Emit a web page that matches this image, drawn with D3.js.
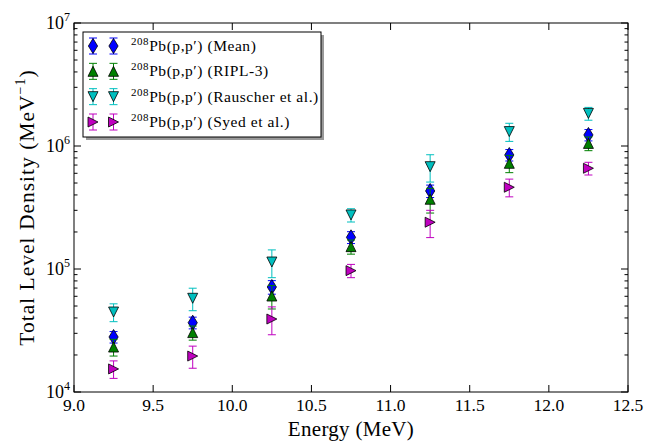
<!DOCTYPE html>
<html>
<head>
<meta charset="utf-8">
<script src="https://cdn.jsdelivr.net/npm/d3@7"></script>
<style>
  body { margin: 0; background: #fff; }
  svg { display: block; font-family: 'Liberation Serif', 'DejaVu Serif', serif; }
</style>
</head>
<body>
<div class="canvas"></div>
<script>
// data
const energy = [9.25, 9.75, 10.25, 10.75, 11.25, 11.75, 12.25];
const meanVals = [2.80e4, 3.66e4, 7.14e4, 1.81e5, 4.31e5, 8.45e5, 1.23e6];
const meanErr = [0.3e4, 0.4e4, 0.9e4, 0.2e5, 0.5e5, 0.9e5, 1.3e5];
const riplVals = [2.32e4, 3.04e4, 6.03e4, 1.52e5, 3.69e5, 7.23e5, 1.05e6];
const riplErr = [0.36e4, 0.4e4, 1.3e4, 0.2e5, 0.84e5, 1.16e5, 1.34e5];
const rauscherVals = [4.47e4, 5.78e4, 1.14e5, 2.75e5, 6.79e5, 1.31e6, 1.84e6];
const rauscherErr = [0.74e4, 1.2e4, 0.29e5, 0.34e5, 1.7e5, 0.22e6, 0.22e6];
const syedVals = [1.54e4, 1.96e4, 3.92e4, 0.97e5, 2.40e5, 4.62e5, 6.59e5];
const syedErr = [0.25e4, 0.4e4, 1.0e4, 0.12e5, 0.6e5, 0.76e5, 0.78e5];

const xTicks = [9.0, 9.5, 10.0, 10.5, 11.0, 11.5, 12.0, 12.5];
const yMajor = [1e4, 1e5, 1e6, 1e7];

const series = [
  { name: '(Mean)', vals: meanVals, err: meanErr, color: '#0000ff', shape: 'diamond' },
  { name: '(RIPL-3)', vals: riplVals, err: riplErr, color: '#008000', shape: 'up' },
  { name: '(Rauscher et al.)', vals: rauscherVals, err: rauscherErr, color: '#00bfbf', shape: 'down' },
  { name: '(Syed et al.)', vals: syedVals, err: syedErr, color: '#bf00bf', shape: 'right' },
];

// !----------------------------------------------------------graph content below

const dims = { width: 662, height: 442 };
const plot = { left: 74, right: 628, top: 23, bottom: 392 };

const svg = d3
  .select('.canvas')
  .append('svg')
  .attr('width', dims.width)
  .attr('height', dims.height);

const x = d3.scaleLinear().domain([9, 12.5]).range([plot.left, plot.right]);
const y = d3.scaleLog().domain([1e4, 1e7]).range([plot.bottom, plot.top]);

// marker shapes, centred on 0,0
const shapePath = (shape) => {
  const s = 5;
  if (shape === 'diamond') return `M0,-7.5L4.6,0L0,7.5L-4.6,0Z`;
  if (shape === 'up') return `M0,${-s}L${s},${s}L${-s},${s}Z`;
  if (shape === 'down') return `M0,${s}L${s},${-s}L${-s},${-s}Z`;
  return `M${s},0L${-s},${s}L${-s},${-s}Z`;
};

// ticks (inside, all four sides)
const tickLayer = svg.append('g').attr('stroke', '#000').attr('stroke-width', 1);

xTicks.forEach((t) => {
  tickLayer.append('line')
    .attr('x1', x(t)).attr('x2', x(t))
    .attr('y1', plot.bottom).attr('y2', plot.bottom - 7);
  tickLayer.append('line')
    .attr('x1', x(t)).attr('x2', x(t))
    .attr('y1', plot.top).attr('y2', plot.top + 7);
});

y.ticks().forEach((t) => {
  const major = yMajor.some((m) => Math.abs(m - t) < 1e-6 * m);
  const len = major ? 7 : 3.5;
  tickLayer.append('line')
    .attr('x1', plot.left).attr('x2', plot.left + len)
    .attr('y1', y(t)).attr('y2', y(t));
  tickLayer.append('line')
    .attr('x1', plot.right).attr('x2', plot.right - len)
    .attr('y1', y(t)).attr('y2', y(t));
});

// x tick labels
svg.append('g')
  .selectAll('text')
  .data(xTicks)
  .join('text')
  .attr('x', (d) => x(d))
  .attr('y', plot.bottom + 19)
  .attr('text-anchor', 'middle')
  .attr('font-size', 17.5)
  .text((d) => d.toFixed(1));

// y tick labels 10^n
const yLab = svg.append('g')
  .selectAll('text')
  .data(yMajor)
  .join('text')
  .attr('x', plot.left - 4)
  .attr('y', (d) => y(d) + 6)
  .attr('text-anchor', 'end')
  .attr('font-size', 18);
yLab.append('tspan').text('10');
yLab.append('tspan')
  .attr('font-size', 12)
  .attr('dy', -8)
  .text((d) => Math.round(Math.log10(d)));

// axis titles
svg.append('text')
  .attr('x', (plot.left + plot.right) / 2)
  .attr('y', 436)
  .attr('text-anchor', 'middle')
  .attr('font-size', 21)
  .attr('letter-spacing', 0.3)
  .text('Energy (MeV)');

const yTitle = svg.append('text')
  .attr('transform', `translate(34, ${(plot.top + plot.bottom) / 2}) rotate(-90)`)
  .attr('text-anchor', 'middle')
  .attr('font-size', 21.5)
  .attr('letter-spacing', 1);
yTitle.append('tspan').text('Total Level Density (MeV');
yTitle.append('tspan').attr('font-size', 14).attr('dy', -9).text('\u22121');
yTitle.append('tspan').attr('dy', 9).text(')');

// data: error bars + markers, series in legend order
const drawPoint = (g, cx, cy, lo, hi, s) => {
  g.append('line')
    .attr('x1', cx).attr('x2', cx)
    .attr('y1', lo).attr('y2', hi)
    .attr('stroke', s.color).attr('stroke-width', 1);
  [lo, hi].forEach((v) => {
    g.append('line')
      .attr('x1', cx - 4).attr('x2', cx + 4)
      .attr('y1', v).attr('y2', v)
      .attr('stroke', s.color).attr('stroke-width', 1);
  });
  g.append('path')
    .attr('d', shapePath(s.shape))
    .attr('transform', `translate(${cx}, ${cy})`)
    .attr('fill', s.color)
    .attr('stroke', '#000')
    .attr('stroke-width', 0.8);
};

const dataLayer = svg.append('g');
series.forEach((s) => {
  const g = dataLayer.append('g');
  energy.forEach((e, i) => {
    drawPoint(g, x(e), y(s.vals[i]), y(s.vals[i] - s.err[i]), y(s.vals[i] + s.err[i]), s);
  });
});

// frame
svg.append('rect')
  .attr('x', plot.left).attr('y', plot.top)
  .attr('width', plot.right - plot.left)
  .attr('height', plot.bottom - plot.top)
  .attr('fill', 'none')
  .attr('stroke', '#000')
  .attr('stroke-width', 1);

// legend
const legendBox = { x: 83, y: 32, w: 238, h: 105 };
const legendGroup = svg.append('g');
legendGroup.append('rect')
  .attr('x', legendBox.x + 3).attr('y', legendBox.y + 3)
  .attr('width', legendBox.w).attr('height', legendBox.h)
  .attr('fill', '#999');
legendGroup.append('rect')
  .attr('x', legendBox.x).attr('y', legendBox.y)
  .attr('width', legendBox.w).attr('height', legendBox.h)
  .attr('fill', '#fff')
  .attr('stroke', '#000')
  .attr('stroke-width', 1);

const rowY = d3.scalePoint().domain(series.map((s) => s.name)).range([46, 122]);
series.forEach((s) => {
  const cy = rowY(s.name);
  [93, 113.5].forEach((cx) => drawPoint(legendGroup, cx, cy, cy + 8, cy - 8, s));
  const t = legendGroup.append('text')
    .attr('x', 131)
    .attr('y', cy + 5)
    .attr('font-size', 15.5)
    .attr('letter-spacing', 0.55);
  t.append('tspan').attr('font-size', 11).attr('dy', -6).text('208');
  t.append('tspan').attr('dy', 6).text('Pb(p,p\u2032) ' + s.name);
});
</script>
</body>
</html>
